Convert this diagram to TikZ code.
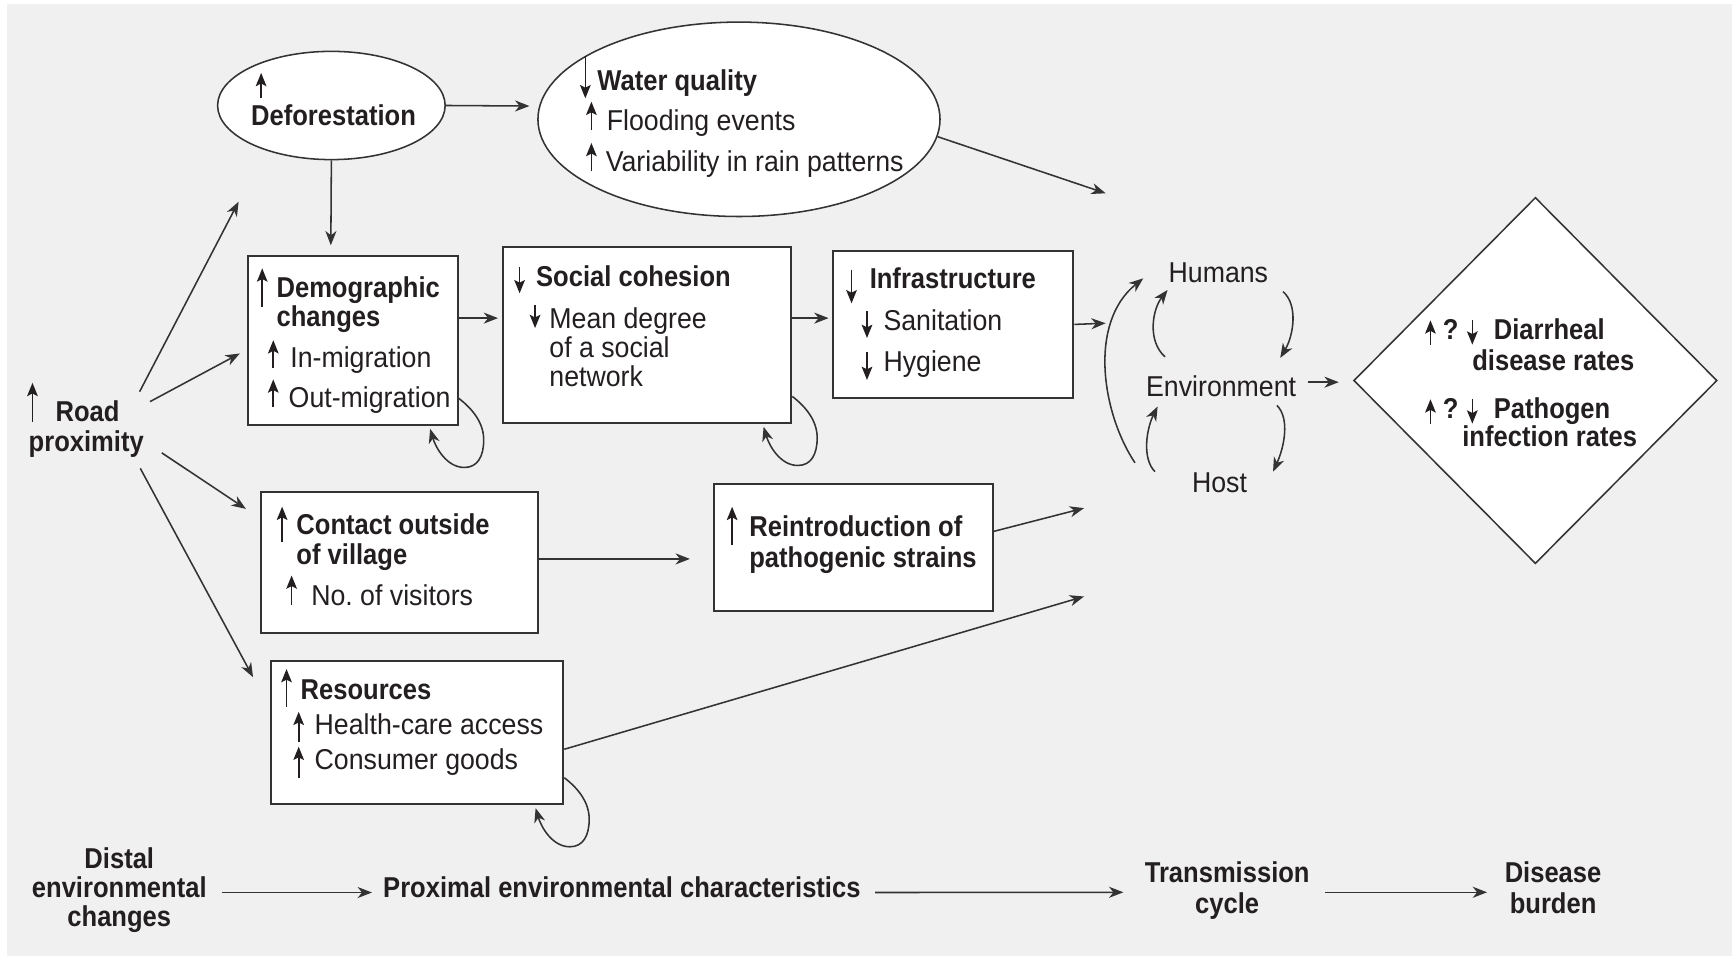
\documentclass[tikz,border=0pt]{standalone}
\usepackage{fontspec}
\setmainfont{Liberation Sans}[UprightFeatures={FakeStretch=0.93},BoldFeatures={FakeStretch=0.89}]
\usetikzlibrary{arrows.meta,shapes.geometric,calc}
\definecolor{bggray}{HTML}{F0F0F0}
\definecolor{ink}{HTML}{231F20}
\definecolor{edge}{HTML}{333333}
\tikzset{
  arr/.style={draw=edge, line width=0.7pt, -{Stealth[length=6.5pt,width=5pt,inset=2pt]}},
  smallarr/.style={draw=ink, line width=0.75pt, -{Stealth[length=6pt,width=4.8pt,inset=1.2pt]}},
  boxn/.style={draw=edge, fill=white, line width=0.9pt, rectangle, inner sep=0pt},
  ell/.style={draw=edge, fill=white, line width=0.7pt, ellipse, inner sep=0pt},
  t/.style={inner sep=0pt, text=ink, font=\fontsize{13}{14}\selectfont},
  tb/.style={t, font=\fontsize{13}{14}\selectfont\bfseries},
  tl/.style={t, anchor=base west},
  tbl/.style={tb, anchor=base west},
  tc/.style={t, anchor=base},
  tbc/.style={tb, anchor=base},
}
\newcommand\UA[3]{\tikz[overlay,baseline=0pt]\draw[smallarr] (#1,#2) -- (#1,#3);}
\newcommand\DA[3]{\tikz[overlay,baseline=0pt]\draw[smallarr] (#1,#3) -- (#1,#2);}
\newcommand\selfloop[1]{%
  \draw[arr] ($(#1.south east)+(0,-25)$)
    .. controls ($(#1.south east)+(13,-15)$) and ($(#1.south east)+(22.5,-2.5)$) .. ($(#1.south east)+(22.5,12.5)$)
    .. controls ($(#1.south east)+(22.5,27.5)$) and ($(#1.south east)+(17,37.5)$) .. ($(#1.south east)+(5,37.5)$)
    .. controls ($(#1.south east)+(-11,37.5)$) and ($(#1.south east)+(-21,19.5)$) .. ($(#1.south east)+(-26,2.5)$);}
\begin{document}
\begin{tikzpicture}[x=0.5pt,y=-0.5pt]
\useasboundingbox (0,0) rectangle (1568,865.5);
\fill[white] (0,0) rectangle (1568,865.5);
\fill[bggray] (6,3.6) rectangle (1568,865.5);

% ellipses
\node[ell, minimum width=103pt, minimum height=49pt] (defo) at (300,95.5) {};
\node[tbl] (defoT) at (227,114) {\UA{4.5pt}{12.5pt}{24pt}Deforestation};
\node[ell, minimum width=182pt, minimum height=88pt] (water) at (669,108) {};
\node[tbl] (waterA) at (540.5,81.5) {\DA{-5.5pt}{-3.75pt}{15.25pt}Water quality};
\node[tl] (waterB) at (549,117.7) {\UA{-7pt}{0pt}{12.8pt}Flooding events};
\node[tl] (waterC) at (548,155) {\UA{-6.5pt}{0pt}{12.8pt}Variability in rain patterns};

% road proximity
\node[tbl] (roadA) at (50,382) {\UA{-10.5pt}{0pt}{17.7pt}Road};
\node[tbl] (roadB) at (25.6,409) {proximity};

% boxes
\node[boxn, minimum width=95pt, minimum height=76.4pt] (demo) at (319.5,308.4) {};
\node[tbl] (demoA) at (250,269) {\UA{-6.5pt}{-4.5pt}{13pt}Demographic};
\node[tbl] (demoB) at (250,296) {changes};
\node[tl] (demoC) at (262.5,333) {\UA{-7.75pt}{0pt}{12.5pt}In-migration};
\node[tl] (demoD) at (261,368.5) {\UA{-7pt}{0pt}{12.5pt}Out-migration};

\node[boxn, minimum width=130.4pt, minimum height=79.5pt] (social) at (586,303.5) {};
\node[tbl] (socA) at (485,259.5) {\DA{-7.5pt}{-3pt}{9pt}Social cohesion};
\node[tl] (socB) at (497,297) {\DA{-6.5pt}{0pt}{10.5pt}Mean degree};
\node[tl] (socC) at (497,324) {of a social};
\node[tl] (socD) at (497,350) {network};

\node[boxn, minimum width=108.9pt, minimum height=66.7pt] (infra) at (862.9,293.7) {};
\node[tbl] (infA) at (787,261) {\DA{-8.25pt}{-6.8pt}{8.5pt}Infrastructure};
\node[tl] (infB) at (799.5,299) {\DA{-7.5pt}{-3.5pt}{8.5pt}Sanitation};
\node[tl] (infC) at (799.5,336) {\DA{-7.5pt}{-4pt}{8.5pt}Hygiene};

\node[boxn, minimum width=125.5pt, minimum height=63.9pt] (contact) at (361.5,509.5) {};
\node[tbl] (contA) at (268,483.5) {\UA{-6.5pt}{-3.75pt}{12.4pt}Contact outside};
\node[tbl] (contB) at (268,510.6) {of village};
\node[tl] (contC) at (281.4,548) {\UA{-8.9pt}{0pt}{13.5pt}No.\ of visitors};

\node[boxn, minimum width=126.25pt, minimum height=57.5pt] (reintro) at (772.75,495.5) {};
\node[tbl] (reA) at (678,486) {\UA{-7.8pt}{-3.7pt}{13.6pt}Reintroduction of};
\node[tbl] (reB) at (678,513.5) {pathogenic strains};

\node[boxn, minimum width=132.5pt, minimum height=64.9pt] (res) at (377.5,663.3) {};
\node[tbl] (resA) at (271.8,633.7) {\UA{-6.4pt}{-3pt}{14pt}Resources};
\node[tl] (resB) at (284.5,665.4) {\UA{-7.25pt}{-3pt}{10.5pt}Health-care access};
\node[tl] (resC) at (284.5,697) {\UA{-7.25pt}{-3.8pt}{10.5pt}Consumer goods};

% diamond
\node[draw=edge, fill=white, line width=0.7pt, diamond, inner sep=0pt, minimum width=164.5pt, minimum height=165.8pt] (diam) at (1390,344.5) {};
\node[tbl] (dA) at (1352,307) {\UA{-28.7pt}{-2.5pt}{8.5pt}\llap{?\hspace{16pt}}\DA{-9.75pt}{-2.5pt}{8.5pt}Diarrheal};
\node[tbl] (dB) at (1332.5,335) {disease rates};
\node[tbl] (dC) at (1352,378.5) {\UA{-28.7pt}{-2.5pt}{8.5pt}\llap{?\hspace{16pt}}\DA{-9.75pt}{-2.5pt}{8.5pt}Pathogen};
\node[tbl] (dD) at (1323.5,404.5) {infection rates};

% transmission cycle
\node[tc] (hum) at (1103,256) {Humans};
\node[tc] (env) at (1105.5,359) {Environment};
\node[tc] (host) at (1104,446) {Host};

% bottom row
\node[tbc] (distalA) at (108,786) {Distal};
\node[tbc] (distalB) at (108,812.5) {environmental};
\node[tbc] (distalC) at (108,839) {changes};
\node[tbc] (prox) at (563,812.4) {Proximal environmental characteristics};
\node[tbc] (transA) at (1111,799) {Transmission};
\node[tbc] (transB) at (1111,826.7) {cycle};
\node[tbc] (disA) at (1406,799) {Disease};
\node[tbc] (disB) at (1406,826.7) {burden};

% free ends
\coordinate (fD) at (216,182.6);
\coordinate (fW) at (1001,175);
\coordinate (fI) at (1001,292.6);
\coordinate (fR) at (981.4,460);
\coordinate (fS) at (981.4,540);

% connectors
\draw[arr] (defo.east) -- ($(water.west)+(-7,-12)$);
\draw[arr] (defo.south) -- ($(demo.north)+(-20,-9)$);
\draw[arr] (water.-5.5) -- (fW);
\draw[arr] ($(roadA.base west)+(76.4,-27.4)$) -- (fD);
\draw[arr] ($(roadA.base west)+(85.8,-18.4)$) -- ($(demo.west)+(-6.5,11.6)$);
\draw[arr] ($(roadB.base west)+(120.9,1)$) -- ($(contact.north west)+(-12.5,16)$);
\draw[arr] ($(roadB.base west)+(101.4,15)$) -- ($(res.north west)+(-15,15.6)$);
\draw[arr] ($(demo.east)+(0,-20.4)$) -- ($(social.west)+(-3.8,-15.5)$);
\draw[arr] ($(social.east)+(0,-15.5)$) -- ($(infra.west)+(-3,-5.7)$);
\draw[arr] (infra.east) -- (fI);
\draw[arr] ($(contact.east)+(0,-3.5)$) -- ($(reintro.west)+(-21,10.5)$);
\draw[arr] ($(reintro.east)+(0,-14.5)$) -- (fR);
\draw[arr] ($(res.east)+(0,15)$) -- (fS);
\selfloop{demo}
\selfloop{social}
\selfloop{res}

% transmission cycle arcs
\draw[arr] ($(host.base)+(-76.5,-27)$) .. controls ($(host.base)+(-106.5,-72)$) and ($(hum.base)+(-118,36)$) .. ($(hum.base)+(-68,-4)$);
\draw[arr] ($(env.base)+(-50.8,-36)$) .. controls ($(env.base)+(-66.8,-50)$) and ($(hum.base)+(-60,24.5)$) .. ($(hum.base)+(-46,6.5)$);
\draw[arr] ($(hum.base)+(58.5,8)$) .. controls ($(hum.base)+(72.5,20)$) and ($(env.base)+(65.5,-55)$) .. ($(env.base)+(53.5,-35)$);
\draw[arr] ($(host.base)+(-58.4,-19)$) .. controls ($(host.base)+(-70.4,-31)$) and ($(env.base)+(-67.5,29)$) .. ($(env.base)+(-57.5,9)$);
\draw[arr] ($(env.base)+(50.5,8)$) .. controls ($(env.base)+(62.5,20)$) and ($(host.base)+(58.5,-41)$) .. ($(host.base)+(48.5,-19)$);
\draw[arr] ($(env.east |- env.base)+(10,-13)$) -- ($(diam.west)+(-12.8,1.5)$);

% bottom arrows
\draw[arr] ($(distalB.east |- distalB.base)+(13.4,-4.5)$) -- ($(prox.west |- prox.base)+(-9.8,-4.4)$);
\draw[arr] ($(prox.east |- prox.base)+(12.7,-4.4)$) -- ($(transA.west |- transB.base)+(-19,-18.9)$);
\draw[arr] ($(transA.east |- transB.base)+(13.4,-18.9)$) -- ($(disA.west |- disB.base)+(-15.6,-18.9)$);
\end{tikzpicture}
\end{document}
